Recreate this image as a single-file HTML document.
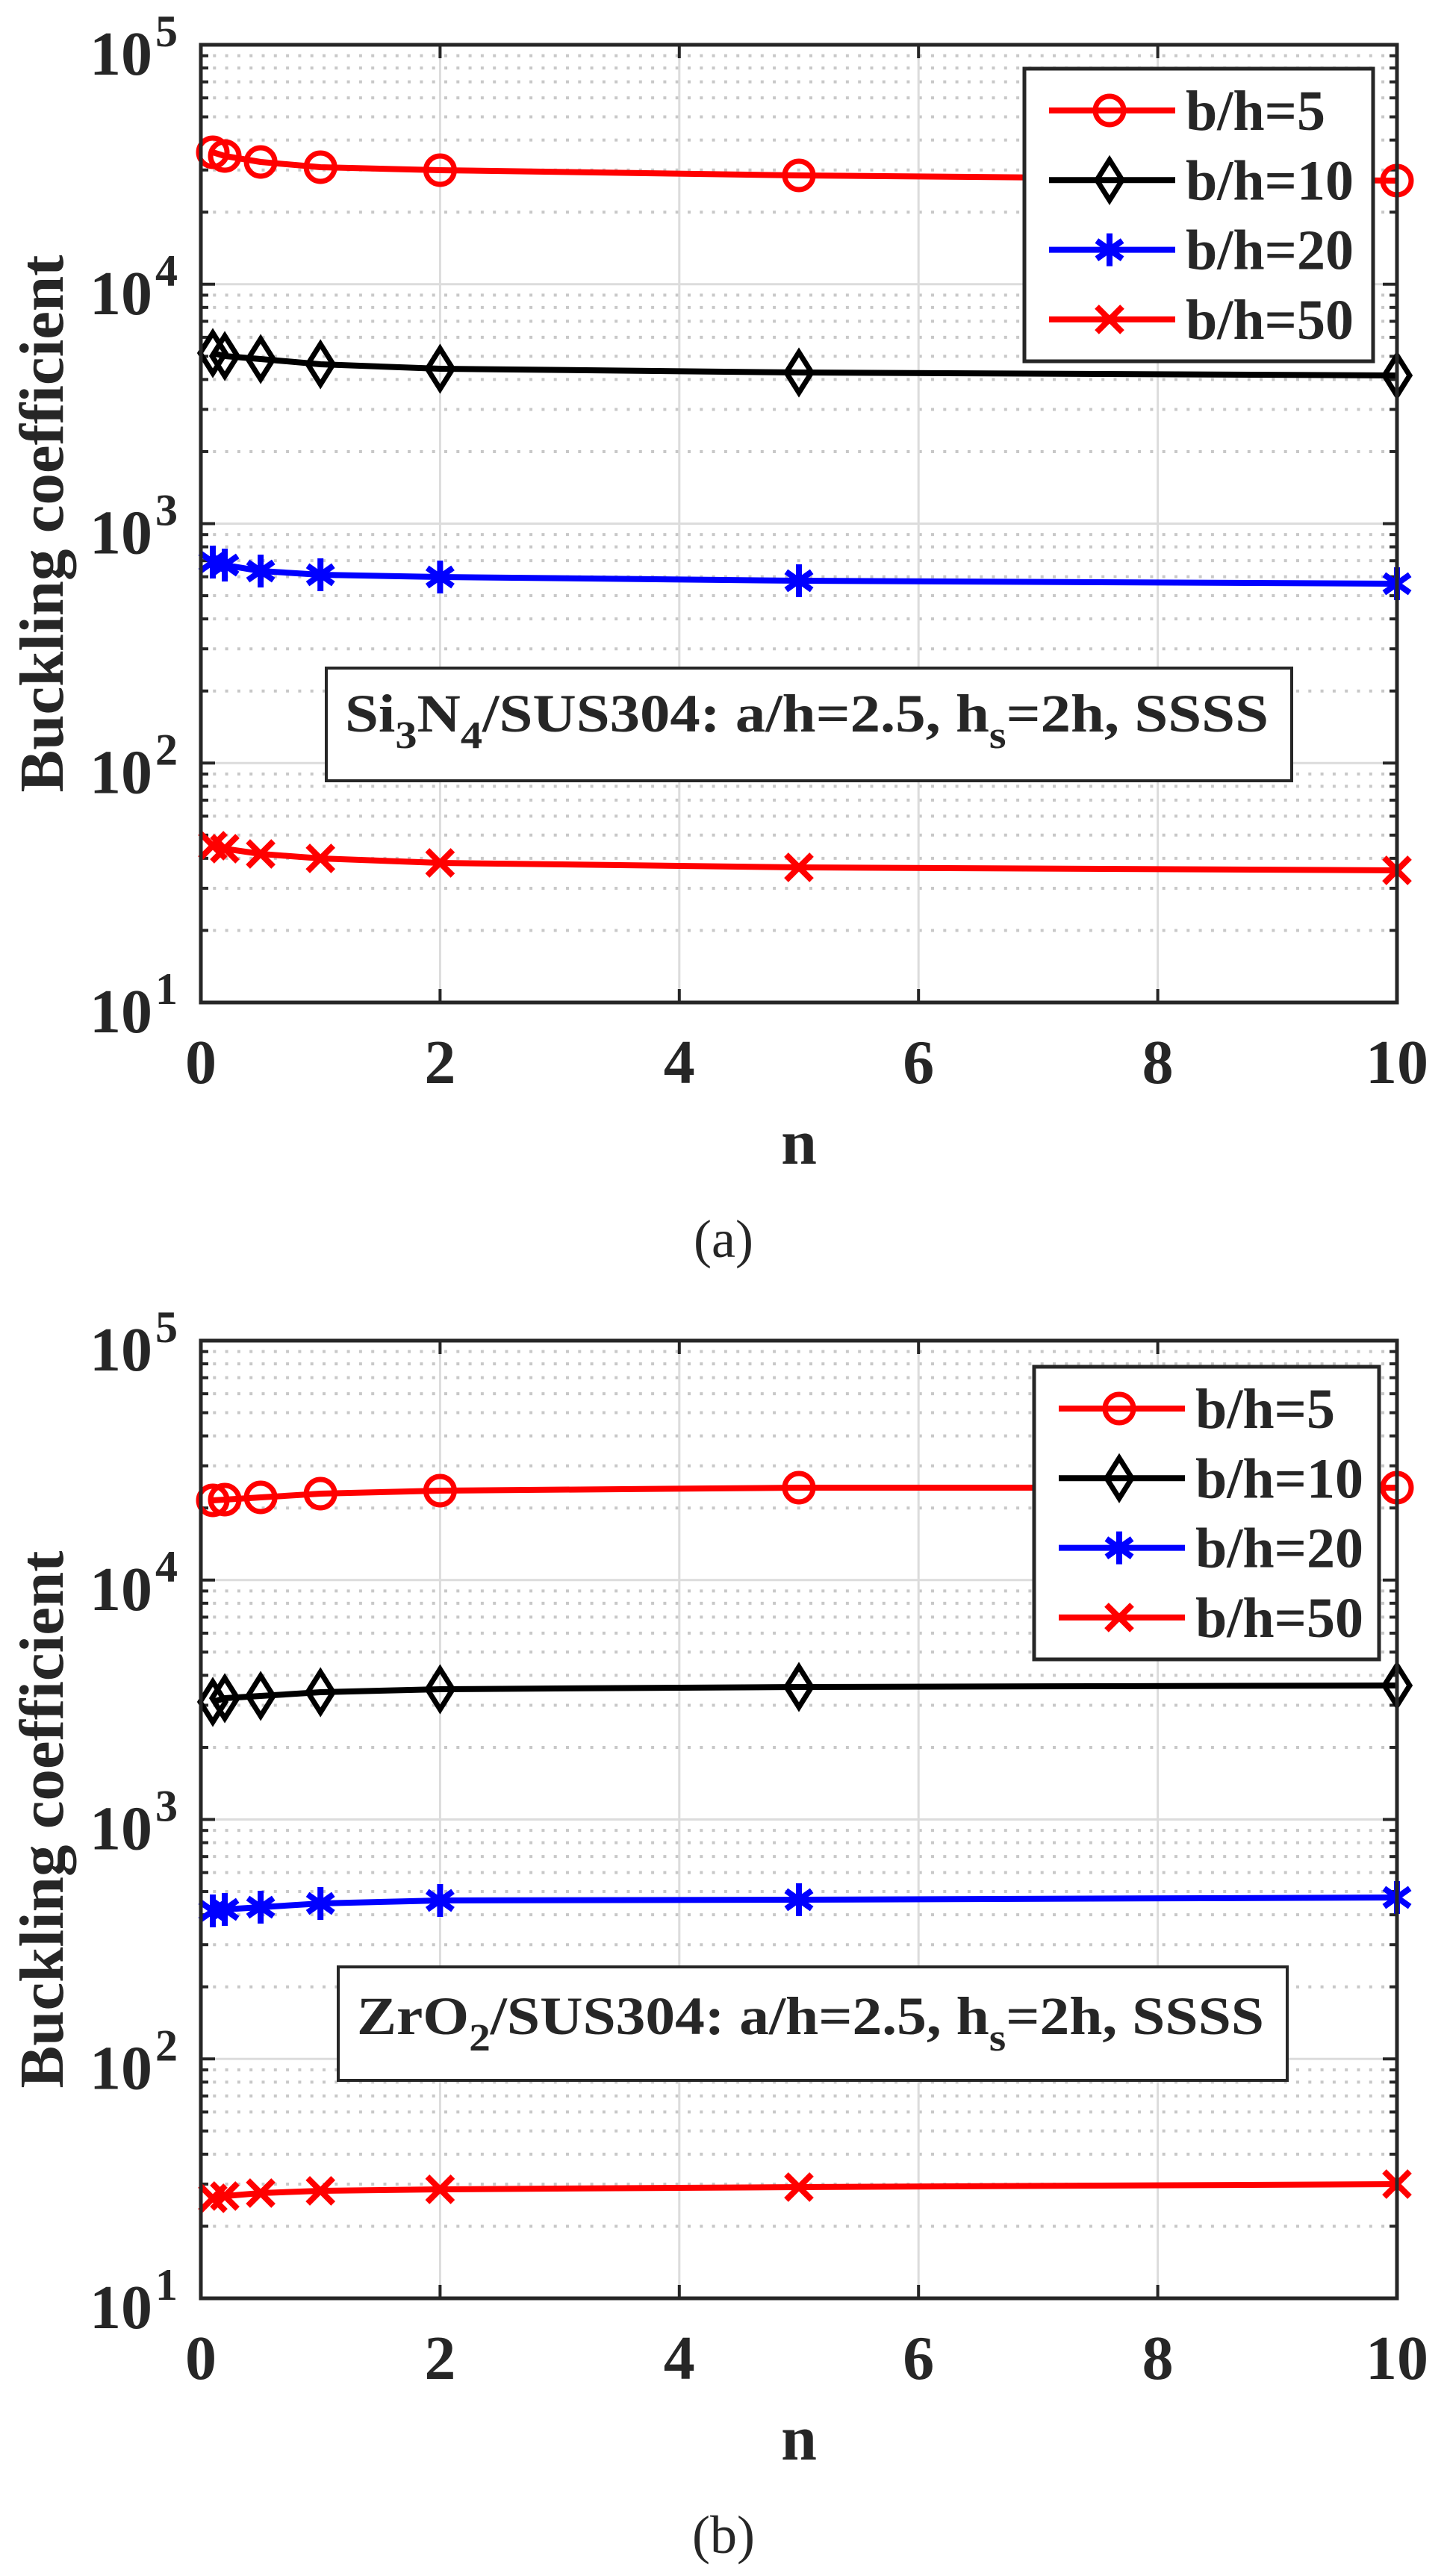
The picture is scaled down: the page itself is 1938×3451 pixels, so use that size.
<!DOCTYPE html>
<html><head><meta charset="utf-8"><style>
html,body{margin:0;padding:0;background:#fff;}
svg{display:block;}
text{font-family:"Liberation Serif","Times New Roman",serif;fill:#262626;}
</style></head><body>
<svg id="s" xmlns="http://www.w3.org/2000/svg" width="1938" height="3451" viewBox="0 0 1938 3451" font-family="Liberation Serif, serif"></svg>
<script>
const S=document.getElementById('s');let h='';
const X0=269,X1=1871,XU=160.2,D=320.75;
const ns=[0.1,0.2,0.5,1,2,5,10];
function panel(top,data,legTop,legX0,legX1,box,lab,cap){
  const bot=top+4*D;
  const yv=v=>bot-(Math.log10(v)-1)*D;
  for(let e=1;e<5;e++){for(let m=2;m<=9;m++){const y=yv(m*Math.pow(10,e));
    h+=`<line x1="${X0}" y1="${y}" x2="${X1}" y2="${y}" stroke="#c8c8c8" stroke-width="4" stroke-dasharray="4 12.3"/>`;}}
  for(let e=2;e<5;e++){const y=yv(Math.pow(10,e));h+=`<line x1="${X0}" y1="${y}" x2="${X1}" y2="${y}" stroke="#dcdcdc" stroke-width="3"/>`;}
  for(let k=2;k<=8;k+=2){const x=X0+k*XU;h+=`<line x1="${x}" y1="${top}" x2="${x}" y2="${bot}" stroke="#dcdcdc" stroke-width="3"/>`;}
  for(let e=1;e<=5;e++){for(let m=1;m<=9;m++){if(e==5&&m>1)break;const y=yv(m*Math.pow(10,e));const L=m==1?19:10;
    h+=`<line x1="${X0}" y1="${y}" x2="${X0+L}" y2="${y}" stroke="#262626" stroke-width="4"/><line x1="${X1}" y1="${y}" x2="${X1-L}" y2="${y}" stroke="#262626" stroke-width="4"/>`;}}
  for(let k=2;k<=8;k+=2){const x=X0+k*XU;h+=`<line x1="${x}" y1="${top}" x2="${x}" y2="${top+18}" stroke="#262626" stroke-width="4"/><line x1="${x}" y1="${bot}" x2="${x}" y2="${bot-18}" stroke="#262626" stroke-width="4"/>`;}
  const cols=['#ff0000','#000000','#0000ff','#ff0000'];
  data.forEach((ys,i)=>{
    const pts=ys.map((y,j)=>[X0+ns[j]*XU,y]);
    h+=`<polyline points="${pts.map(p=>p.join(',')).join(' ')}" fill="none" stroke="${cols[i]}" stroke-width="8" stroke-linejoin="round"/>`;
    pts.forEach(p=>h+=mk(i,p[0],p[1],cols[i]));
  });
  h+=`<rect x="${X0}" y="${top}" width="${X1-X0}" height="${bot-top}" fill="none" stroke="#262626" stroke-width="5"/>`;
  for(let e=1;e<=5;e++){const y=yv(Math.pow(10,e));
    h+=`<text x="204" y="${y+40}" font-size="84" font-weight="bold" text-anchor="end">10</text><text x="208" y="${y+2}" font-size="60" font-weight="bold">${e}</text>`;}
  for(let k=0;k<=10;k+=2){h+=`<text x="${X0+k*XU}" y="${bot+108}" font-size="84" font-weight="bold" text-anchor="middle">${k}</text>`;}
  h+=`<text x="1070" y="${bot+216}" font-size="86" font-weight="bold" text-anchor="middle">n</text>`;
  const cy=(top+bot)/2;
  h+=`<text transform="translate(84,${cy}) rotate(-90)" x="0" y="0" font-size="84" font-weight="bold" text-anchor="middle" textLength="720" lengthAdjust="spacingAndGlyphs">Buckling coefficient</text>`;
  h+=`<text x="969" y="${bot+341}" font-size="72" text-anchor="middle">${cap}</text>`;
  h+=`<rect x="${legX0}" y="${legTop}" width="${legX1-legX0}" height="392" fill="#fff" stroke="#262626" stroke-width="5"/>`;
  const labs=['b/h=5','b/h=10','b/h=20','b/h=50'];
  labs.forEach((t,i)=>{const y=legTop+56+i*93.3;
    h+=`<line x1="${legX0+33}" y1="${y}" x2="${legX0+202}" y2="${y}" stroke="${cols[i]}" stroke-width="8"/>`+mk(i,legX0+114,y,cols[i]);
    h+=`<text x="${legX0+216}" y="${y+26}" font-size="76" font-weight="bold" fill="#000">${t}</text>`;});
  h+=`<rect x="${box[0]}" y="${box[1]}" width="${box[2]-box[0]}" height="${box[3]-box[1]}" fill="#fff" stroke="#262626" stroke-width="4"/>`;
  h+=`<text x="${box[0]+25}" y="${box[4]}" font-size="72" font-weight="bold" fill="#000" textLength="${box[2]-box[0]-56}" lengthAdjust="spacingAndGlyphs">${lab}</text>`;
}
function mk(i,x,y,c){
  const w=7;
  if(i==0)return `<circle cx="${x}" cy="${y}" r="19" fill="none" stroke="${c}" stroke-width="${w}"/>`;
  if(i==1)return `<polygon points="${x},${y-27} ${x+17},${y} ${x},${y+27} ${x-17},${y}" fill="none" stroke="${c}" stroke-width="${w}"/>`;
  if(i==2){const r=22,a=r*0.78,b=r*0.55;return `<path d="M${x} ${y-r}V${y+r}M${x-a} ${y-b}L${x+a} ${y+b}M${x-a} ${y+b}L${x+a} ${y-b}" stroke="${c}" stroke-width="8"/>`;}
  return `<path d="M${x-17} ${y-17}L${x+17} ${y+17}M${x-17} ${y+17}L${x+17} ${y-17}" stroke="${c}" stroke-width="8"/>`;
}
panel(60,[[204,209,217,224,228,235,242],[473,477,481,488,494,499,503],[753,757,765,770,773,778,782],[1133,1137,1144,1150,1156,1162,1166]],
 92,1372,1839,[437,895,1730,1046,980],
 'Si<tspan baseline-shift="-22" font-size="52">3</tspan>N<tspan baseline-shift="-22" font-size="52">4</tspan>/SUS304: a/h=2.5, h<tspan baseline-shift="-22" font-size="52">s</tspan>=2h, SSSS','(a)');
panel(1796,[[2010,2009,2006,2001,1997,1993,1993],[2280,2275,2272,2267,2263,2260,2258],[2560,2558,2555,2550,2546,2545,2542],[2945,2942,2938,2935,2933,2930,2926]],
 1831,1385,1847,[453,2635,1724,2787,2725],
 'ZrO<tspan baseline-shift="-22" font-size="52">2</tspan>/SUS304: a/h=2.5, h<tspan baseline-shift="-22" font-size="52">s</tspan>=2h, SSSS','(b)');
S.innerHTML=h;
</script>
</body></html>
